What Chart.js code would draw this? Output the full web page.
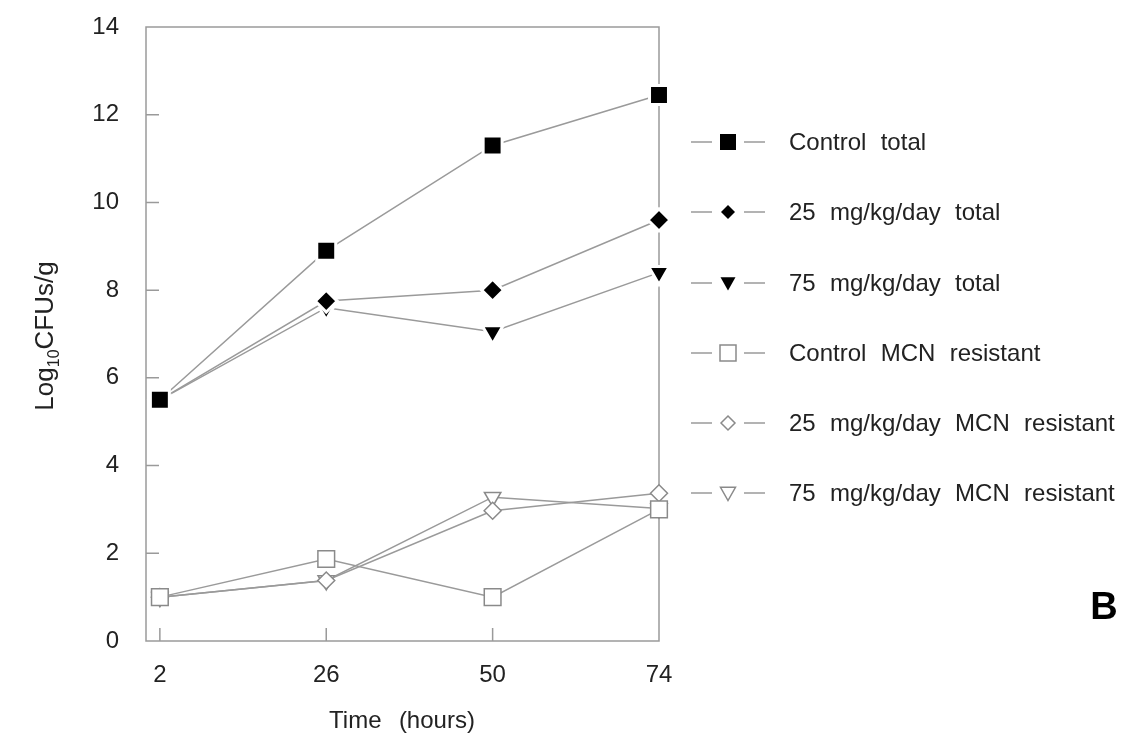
<!DOCTYPE html>
<html lang="en">
<head>
  <meta charset="UTF-8" />
  <title>Log10 CFUs/g over time</title>
  <script src="https://cdn.jsdelivr.net/npm/chart.js"></script>
  <style>
    body {
      margin: 0;
      background: #fff;
    }
    #wrap {
      width: 1126px;
      height: 734px;
    }
  </style>
</head>
<body>
  <div id="wrap"><canvas id="cfuChart" width="1126" height="734"></canvas></div>

  <script>
    // data
    const hours = [2, 26, 50, 74];
    const yTicks = [0, 2, 4, 6, 8, 10, 12, 14];
    const seriesNames = [
      "Control  total",
      "25  mg/kg/day  total",
      "75  mg/kg/day  total",
      "Control  MCN  resistant",
      "25  mg/kg/day  MCN  resistant",
      "75  mg/kg/day  MCN  resistant"
    ];
    const controlTotal = [5.5, 8.9, 11.3, 12.45];
    const dose25Total = [5.5, 7.75, 8.0, 9.6];
    const dose75Total = [5.5, 7.6, 7.05, 8.4];
    const controlResistant = [1.0, 1.87, 1.0, 3.0];
    const dose25Resistant = [1.0, 1.38, 2.97, 3.37];
    const dose75Resistant = [1.0, 1.38, 3.28, 3.02];

    const FONT = '"Liberation Sans", Arial, sans-serif';
    const LINE = '#9a9a9a';
    const OPEN = '#8a8a8a';

    function pts(vals) {
      return vals.map((v, i) => ({ x: hours[i], y: v }));
    }

    // filled markers get a white rim so the lines stop short of them
    function filled(label, vals, style, r, rot) {
      return {
        label, data: pts(vals), clip: false,
        borderColor: LINE, borderWidth: 1.5,
        pointStyle: style, pointRadius: r, pointRotation: rot || 0,
        pointBackgroundColor: '#000', pointBorderColor: '#fff', pointBorderWidth: 3,
        pointHoverRadius: r
      };
    }
    function open(label, vals, style, r, rot) {
      return {
        label, data: pts(vals), clip: false,
        borderColor: LINE, borderWidth: 1.5,
        pointStyle: style, pointRadius: r, pointRotation: rot || 0,
        pointBackgroundColor: '#fff', pointBorderColor: OPEN, pointBorderWidth: 1.5,
        pointHoverRadius: r
      };
    }

    const datasets = [
      filled(seriesNames[0], controlTotal, 'rect', 13.4),
      filled(seriesNames[1], dose25Total, 'rectRot', 11),
      filled(seriesNames[2], dose75Total, 'triangle', 12, 180),
      open(seriesNames[3], controlResistant, 'rect', 11.8),
      open(seriesNames[4], dose25Resistant, 'rectRot', 8.5),
      open(seriesNames[5], dose75Resistant, 'triangle', 9.5, 180)
    ];

    // small marker drawing for the legend samples
    function marker(ctx, kind, x, y, s, fill, stroke) {
      ctx.beginPath();
      if (kind === 'rect') {
        ctx.rect(x - s / 2, y - s / 2, s, s);
      } else if (kind === 'rectRot') {
        ctx.moveTo(x, y - s / 2);
        ctx.lineTo(x + s / 2, y);
        ctx.lineTo(x, y + s / 2);
        ctx.lineTo(x - s / 2, y);
        ctx.closePath();
      } else {
        ctx.moveTo(x - s / 2, y - s * 0.38);
        ctx.lineTo(x + s / 2, y - s * 0.38);
        ctx.lineTo(x, y + s * 0.5);
        ctx.closePath();
      }
      ctx.fillStyle = fill;
      ctx.fill();
      if (stroke) {
        ctx.strokeStyle = stroke;
        ctx.lineWidth = 1.5;
        ctx.stroke();
      }
    }

    const frame = {
      id: 'frame',
      beforeDatasetsDraw(chart) {
        const { ctx, chartArea: a, scales } = chart;
        ctx.save();
        ctx.strokeStyle = LINE;
        ctx.lineWidth = 1.5;
        ctx.strokeRect(a.left, a.top, a.right - a.left, a.bottom - a.top);
        // inward ticks
        ctx.beginPath();
        yTicks.slice(1, -1).forEach(v => {
          const py = scales.y.getPixelForValue(v);
          ctx.moveTo(a.left, py);
          ctx.lineTo(a.left + 13, py);
        });
        hours.slice(0, -1).forEach(h => {
          const px = scales.x.getPixelForValue(h);
          ctx.moveTo(px, a.bottom);
          ctx.lineTo(px, a.bottom - 13);
        });
        ctx.stroke();
        ctx.restore();
      },
      afterDraw(chart) {
        const { ctx } = chart;
        ctx.save();
        ctx.fillStyle = '#222';

        // x title
        ctx.font = '24px ' + FONT;
        ctx.textAlign = 'center';
        ctx.textBaseline = 'alphabetic';
        if ('wordSpacing' in ctx) ctx.wordSpacing = '2px';
        ctx.fillText('Time  (hours)', 402, 728);
        if ('wordSpacing' in ctx) ctx.wordSpacing = '0px';

        // y title with subscript
        ctx.save();
        ctx.translate(53, 336);
        ctx.rotate(-Math.PI / 2);
        ctx.textAlign = 'left';
        const big = '26px ' + FONT, small = '16px ' + FONT;
        ctx.font = big;
        const w1 = ctx.measureText('Log').width;
        const w3 = ctx.measureText('CFUs/g').width;
        ctx.font = small;
        const w2 = ctx.measureText('10').width;
        let x0 = -(w1 + w2 + w3) / 2;
        ctx.font = big;
        ctx.fillText('Log', x0, 0);
        ctx.font = small;
        ctx.fillText('10', x0 + w1, 6);
        ctx.font = big;
        ctx.fillText('CFUs/g', x0 + w1 + w2, 0);
        ctx.restore();

        // legend
        const rows = [142, 212, 283, 353, 423, 493];
        chart.data.datasets.forEach((ds, i) => {
          const y = rows[i];
          ctx.strokeStyle = LINE;
          ctx.lineWidth = 1.5;
          ctx.beginPath();
          ctx.moveTo(691, y); ctx.lineTo(712, y);
          ctx.moveTo(744, y); ctx.lineTo(765, y);
          ctx.stroke();
          const isOpen = i >= 3;
          const size = ds.pointStyle === 'rect' ? 16 : (ds.pointStyle === 'rectRot' ? 14 : 15);
          marker(ctx, ds.pointStyle, 728, y, size, isOpen ? '#fff' : '#000', isOpen ? OPEN : null);
          ctx.fillStyle = '#222';
          ctx.font = '24px ' + FONT;
          ctx.textAlign = 'left';
          ctx.textBaseline = 'middle';
          if ('wordSpacing' in ctx) ctx.wordSpacing = '0.5px';
          ctx.fillText(ds.label, 789, y + 1);
          if ('wordSpacing' in ctx) ctx.wordSpacing = '0px';
        });

        // panel letter
        ctx.fillStyle = '#000';
        ctx.font = 'bold 38px ' + FONT;
        ctx.textAlign = 'center';
        ctx.textBaseline = 'middle';
        ctx.fillText('B', 1104, 609);
        ctx.restore();
      }
    };

    new Chart(document.getElementById('cfuChart'), {
      type: 'line',
      data: { datasets },
      options: {
        responsive: false,
        animation: false,
        layout: { padding: { top: 27, right: 467, left: 0, bottom: 0 } },
        plugins: { legend: { display: false }, tooltip: { enabled: false } },
        scales: {
          x: {
            type: 'linear',
            min: 0,
            max: 74,
            afterFit(scale) { scale.height = 93; },
            afterBuildTicks(scale) { scale.ticks = hours.map(v => ({ value: v })); },
            grid: { display: false, drawTicks: false },
            border: { display: false },
            ticks: {
              padding: 20,
              color: '#222',
              font: { size: 24, family: FONT },
              maxRotation: 0,
              autoSkip: false
            }
          },
          y: {
            min: 0,
            max: 14,
            afterFit(scale) {
              scale.width = 146;
              scale.paddingTop = 0;
              scale.paddingBottom = 0;
            },
            afterBuildTicks(scale) { scale.ticks = yTicks.map(v => ({ value: v })); },
            grid: { display: false, drawTicks: false },
            border: { display: false },
            ticks: {
              padding: 27,
              color: '#222',
              font: { size: 24, family: FONT }
            }
          }
        }
      },
      plugins: [frame]
    });
  </script>
</body>
</html>
